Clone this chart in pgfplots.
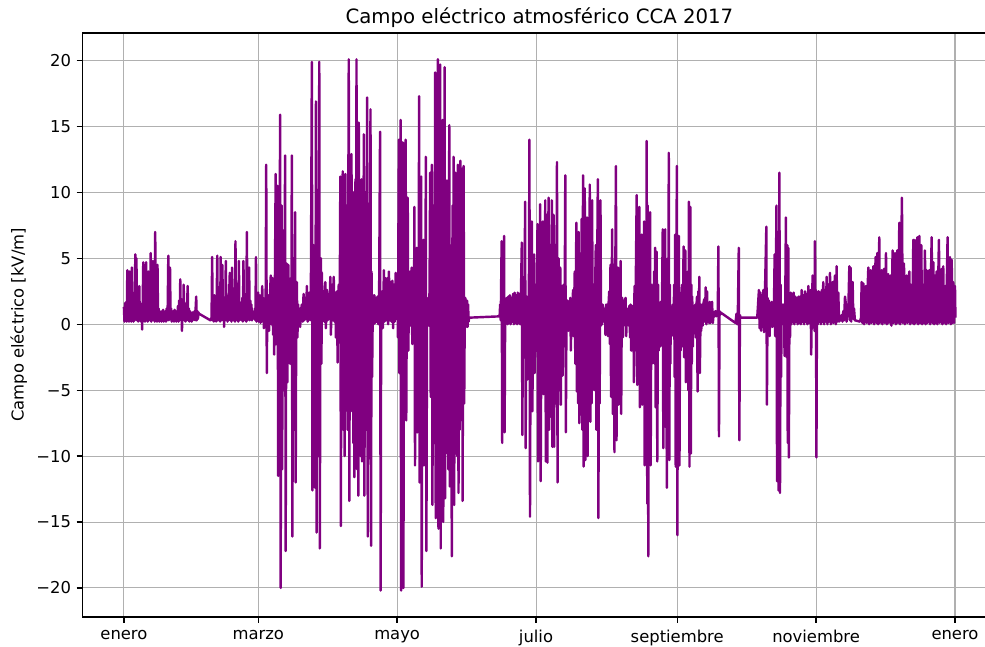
\documentclass[border=0pt]{standalone}
\usepackage{pgfplots}
\pgfplotsset{compat=1.18}
\usepackage{fontspec}
\setmainfont{DejaVu Sans}
\definecolor{mplpurple}{HTML}{800080}
\definecolor{gridgray}{HTML}{B0B0B0}
\begin{document}
\begin{tikzpicture}
\useasboundingbox (-59.3pt,-21.6pt) rectangle (649.9pt,444.2pt);
\clip (-59.3pt,-21.6pt) rectangle (649.9pt,444.2pt);
\begin{axis}[
  scale only axis,
  width=658.2pt, height=420.5pt,
  xmin=-36.5, xmax=766.5, ymin=-22.2, ymax=22.1,
  axis line style={line width=0.95pt},
  xtick={0,118,240,362,486,608,730},
  xticklabels={enero,marzo,mayo,julio,septiembre,noviembre,enero},
  ytick={-20,-15,-10,-5,0,5,10,15,20},
  yticklabels={−20,−15,−10,−5,0,5,10,15,20},
  tick align=outside, tick pos=left, major tick length=4.1pt,
  tick style={line width=0.95pt, black},
  grid=major, grid style={line width=0.75pt, color=gridgray},
  ticklabel style={font=\fontsize{11.8}{14}\selectfont},
  xticklabel style={yshift=-2pt},
  yticklabel style={xshift=-0.5pt},
  title={Campo eléctrico atmosférico CCA 2017},
  title style={font=\fontsize{14.2}{17}\selectfont, yshift=-5.5pt},
  ylabel={Campo eléctrico [kV/m]},
  ylabel style={font=\fontsize{11.8}{14}\selectfont},
]
\addplot[mplpurple, line width=1.75pt, line join=round, mark=none] coordinates {
(0,1.3)(0.5,0.2)(1,1.6)(1.5,0.3)(2,1.7)(2.5,0.2)(3,4.1)(3.5,0.3)(4,1.5)(4.5,0.2)(5,4.0)(5.5,0.4)(6,1.6)(6.5,0.2)(7,4.3)(7.5,0.3)(8,1.8)(8.5,0.2)(9,2.4)(9.5,0.3)(10,5.3)(10.5,0.5)(11,5.0)(11.5,0.3)(12,1.7)(12.5,0.2)(13,1.5)(13.5,2.9)(14,0.3)(14.5,1.6)(15,0.2)(15.5,1.4)(16,-0.4)(16.5,1.5)(17,4.7)(17.5,0.3)(18,1.8)(18.5,0.2)(19,1.6)(19.5,4.7)(20,0.3)(20.5,1.7)(21,0.2)(21.5,4.0)(22,0.4)(22.5,1.8)(23,0.3)(23.5,5.4)(24,0.2)(24.5,1.9)(25,0.3)(25.5,4.8)(26,0.4)(26.5,1.7)(27,0.2)(27.5,7.0)(28,0.3)(28.5,1.8)(29,0.2)(29.5,4.5)(30,0.3)(30.5,1.2)(31,0.2)(31.5,1.0)(32,0.3)(32.5,0.9)(33,0.2)(33.5,1.0)(34,0.3)(34.5,1.1)(35,0.2)(35.5,0.9)(36,0.3)(36.5,1.0)(37,0.2)(37.5,1.2)(38,0.3)(38.5,1.5)(39,5.2)(39.5,0.3)(40,1.5)(40.5,4.3)(41,0.4)(41.5,1.2)(42,0.2)(42.5,1.0)(43,0.3)(43.5,1.0)(44,0.2)(44.5,1.1)(45,0.3)(45.5,0.9)(46,0.2)(46.5,1.0)(47,0.3)(47.5,1.4)(48,0.2)(48.5,1.8)(49,0.3)(49.5,3.4)(50,0.4)(50.5,1.5)(51,-0.5)(51.5,1.4)(52,0.3)(52.5,3.0)(53,0.4)(53.5,1.6)(54,0.2)(54.5,1.5)(55,0.3)(55.5,1.4)(56,2.9)(56.5,0.3)(57,1.2)(57.5,0.2)(58,1.0)(58.5,0.3)(59,0.8)(59.5,0.2)(60,0.9)(60.5,0.3)(61,0.8)(61.5,0.4)(62,1.0)(62.5,0.3)(63,1.2)(63.5,2.1)(64,0.3)(64.5,1.0)(65,0.4)(65.5,0.9)(66,0.8)(76,0.3)
(77,0.5)(77.5,5.1)(78,0.3)(78.5,1.8)(79,0.2)(79.5,2.2)(80,0.4)(80.5,1.9)(81,0.2)(81.5,2.0)(82,5.2)(82.5,0.3)(83,2.1)(83.5,0.4)(84,1.8)(84.5,0.2)(85,5.1)(85.5,0.3)(86,2.0)(86.5,4.5)(87,0.3)(87.5,1.8)(88,-0.2)(88.5,2.0)(89,0.3)(89.5,4.8)(90,0.4)(90.5,2.2)(91,0.2)(91.5,1.9)(92,0.3)(92.5,2.4)(93,3.9)(93.5,0.3)(94,2.0)(94.5,0.2)(95,4.3)(95.5,0.4)(96,2.1)(96.5,0.3)(97,2.5)(97.5,0.2)(98,6.3)(98.5,0.4)(99,2.2)(99.5,0.3)(100,2.0)(100.5,0.2)(101,4.8)(101.5,0.3)(102,1.2)(102.5,0.4)(103,1.0)(103.5,0.3)(104,2.0)(104.5,0.2)(105,4.8)(105.5,0.3)(106,2.1)(106.5,0.4)(107,2.3)(107.5,0.2)(108,7.0)(108.5,0.3)(109,2.0)(109.5,0.4)(110,4.3)(110.5,0.3)(111,1.8)(111.5,0.4)(112,1.5)(112.5,0.3)(113,1.0)(113.5,0.5)(114,0.9)(114.5,0.4)(115,1.2)(115.5,0.3)(116,5.1)(116.5,0.2)(117,1.6)(117.5,0.3)(118,2.4)(118.5,0.2)(119,1.8)(119.5,2.2)(120,0.1)(120.5,1.9)(121,0.2)(121.5,2.9)(122,0.3)(122.5,2.0)(123,-0.3)(123.5,1.8)(124,0.2)(124.5,1.5)
(125,12.1)(125.5,-3.7)(126,1.8)(126.5,0.3)(127,2.2)(127.5,-0.5)(128,1.6)(129,3.7)(129.5,0.0)(130.5,3.5)(131,-0.8)(131.5,2.0)(132,-2.3)(132.5,1.5)(133.3,11.4)(133.8,-1.5)(134.3,3.0)(135,10.5)(135.5,-11.5)(136,2.0)(136.5,-3.0)(137.2,15.9)(137.7,-20.0)(138.2,4.0)(138.6,9.0)(139,-11.0)(139.5,2.5)(140,7.1)(140.5,-5.0)(141,3.0)(141.6,12.8)(142.1,-17.2)(142.6,3.0)(143.1,4.6)(143.6,-4.4)(144.1,2.0)(144.5,4.5)(145,-2.0)(145.5,2.8)(146,-3.0)(146.5,3.5)(147,-1.5)(147.5,12.8)(148,-16.1)(148.5,2.0)(148.9,5.0)(149.4,-8.0)(149.9,3.0)(150.4,8.5)(150.9,-12.0)(151.4,2.0)(151.9,3.2)(152.4,-1.0)(153,1.5)(153.5,0.0)(154,1.2)(154.8,-0.2)(155.5,1.0)(156.3,1.5)(157,0.2)(157.8,2.3)(158.5,0.3)(159.3,2.0)(160,0.4)(160.7,2.9)(161.4,0.2)(162,2.2)(162.8,2.4)(163.5,0.3)(164.2,1.8)
(165.1,19.9)(165.6,-12.6)(166.1,2.0)(166.6,6.0)(167,-8.0)(167.5,3.0)(168,-12.4)(168.7,16.9)(169.2,-15.8)(169.7,2.0)(170.1,9.0)(170.6,-10.0)(171.1,2.0)(171.6,19.9)(172.1,-17.0)(172.6,2.0)(173.1,5.0)(173.5,-3.0)(173.9,3.9)(174.5,0.3)(175.4,2.5)(176,0.2)(176.9,3.2)(177.4,-0.3)(178.4,2.6)(179,0.3)(179.8,2.2)(180.5,0.4)(181.3,3.6)(181.8,-0.8)(182.8,3.0)(183.5,0.3)(184.3,3.6)(185,0.2)(185.7,2.4)(186.2,-1.0)(187.2,2.5)(187.7,-2.9)(188.2,1.5)(188.7,3.0)(189.2,-1.0)(189.6,2.0)(190.1,11.2)(190.6,-15.3)(191,5.0)(191.5,-6.0)(192.2,11.6)(192.7,-8.0)(193.4,6.0)(193.9,-10.0)(194.6,11.4)(195.1,-5.3)(196,8.0)(196.5,-8.0)(197.5,20.1)(198,-13.4)(198.7,10.0)(199.2,-5.0)(199.9,12.9)(200.4,-6.6)(201,9.0)(201.5,-9.0)(201.9,10.0)(202.4,-11.6)(203.4,11.0)(203.9,-7.0)(204.3,20.1)(204.8,-11.0)(205.4,10.0)(205.9,-13.0)(206.3,15.3)(206.8,-8.0)(207.5,9.0)(208,-10.0)(208.7,11.0)(209.2,-10.4)(209.9,8.0)(210.3,-6.0)(210.7,14.4)(211.2,-13.0)(212.2,10.0)(212.7,-8.0)(213.7,17.2)(214.2,-16.1)(215.2,9.0)(215.7,-9.0)(216.6,16.3)(217.1,-16.8)(217.5,4.0)(218,-4.0)(218.7,2.2)(219.3,0.0)(220,2.2)(220.7,0.1)(221.4,2.0)(222.1,0.2)(222.8,2.1)(223.5,0.0)(224.2,2.5)(225,14.6)(225.5,-20.2)(226,2.0)(226.9,2.5)(227.4,-0.3)(228.4,4.1)(229,0.2)(229.9,3.5)(230.5,0.3)(231.4,3.5)(232,0.0)(232.8,4.0)(233.4,0.3)(234.3,3.2)(235,0.2)(235.8,3.3)(236.5,-0.3)(237.2,3.0)(237.9,0.2)(238.7,3.9)(239.4,0.4)(240.2,3.5)(240.7,-1.0)
(241.5,14.0)(242,-3.7)(242.5,2.0)(243,15.5)(243.5,-20.2)(244,3.0)(244.5,-2.0)(245,13.8)(245.5,-20.0)(246,2.0)(246.5,3.7)(247,-2.9)(247.5,14.0)(248,-7.3)(248.5,2.0)(249.3,9.6)(249.8,-2.0)(250.5,2.5)(251.3,4.0)(251.8,-0.1)(252.8,4.3)(253.3,-1.5)(254.2,3.0)(254.7,-1.0)(255.2,8.9)(255.7,-10.7)(256.2,2.5)(257.2,5.8)(257.7,-8.2)(258.3,3.0)(258.8,-2.0)(259.3,17.3)(259.8,-12.0)(260.5,3.0)(261.1,11.2)(261.6,-19.9)(262.1,2.0)(263.1,6.4)(263.6,-10.7)(264.2,2.5)(264.7,-3.0)(265.2,12.7)(265.7,-17.2)(266.3,2.0)(266.9,0.2)(267.5,1.5)(268,-0.1)(268.5,3.0)(269,11.5)(269.5,-5.5)(270,3.0)(270.5,12.1)(271,-13.7)(271.5,3.0)(272,9.0)(272.5,-9.0)(273,2.0)(273.4,19.1)(273.9,-14.7)(274.3,3.0)(274.6,12.0)(275,-12.0)(275.4,2.0)(275.8,20.1)(276.3,-15.5)(276.7,11.0)(277.1,-10.0)(277.4,3.0)(277.8,19.7)(278.3,-17.0)(278.7,12.0)(279.1,-12.0)(279.5,2.0)(280,15.5)(280.5,-15.0)(281,3.0)(281.3,-3.0)(281.7,19.5)(282.2,-13.2)(282.8,10.0)(283.2,-8.0)(283.7,10.9)(284.2,-9.8)(284.6,8.0)(285,-11.0)(285.4,2.0)(285.8,15.1)(286.3,-12.3)(286.7,6.0)(287.1,-7.0)(287.5,5.3)(288,-17.6)(288.4,2.0)(288.7,9.0)(289.1,-9.0)(289.6,12.7)(290.1,-13.7)(290.6,3.0)(291.1,11.5)(291.6,-9.8)(292.3,8.0)(292.8,-10.0)(293.4,12.1)(293.9,-12.8)(294.6,6.0)(295,-8.0)(295.5,12.4)(296,-7.1)(296.5,3.0)(297,11.8)(297.5,-13.4)(298,2.0)(298.4,12.0)(298.9,-6.0)(299.4,1.0)(299.9,2.0)(300.5,-0.2)(301,1.2)(301.4,1.8)(301.9,-0.2)(302.3,1.5)(302.8,0.2)(303.2,0.5)(330,0.6)
(330.5,1.5)(331,0.3)(331.8,6.3)(332.3,-9.0)(332.8,1.0)(333.4,0.2)(333.9,6.7)(334.4,-8.2)(334.9,1.0)(335.5,0.3)(336.2,2.0)(337,0.0)(337.7,2.1)(338.4,0.1)(339,2.2)(339.7,0.0)(340.4,2.0)(341.1,0.2)(341.8,2.3)(342.5,0.0)(343.2,2.4)(343.9,0.1)(344.6,2.2)(345.3,0.0)(346,2.4)(346.7,0.1)(347.4,2.3)(348,0.0)(348.8,2.5)(349.5,6.2)(350,-8.4)(350.5,1.5)(350.9,3.0)(351.4,-2.0)(351.9,1.0)(352.4,9.3)(352.9,-9.4)(353.4,1.5)(353.9,2.1)(354.4,-4.2)(355,2.0)(355.6,-1.0)(356.2,14.0)(356.7,-14.6)(357.3,2.0)(357.8,-1.0)(358.3,7.8)(358.8,-6.6)(359.5,2.5)(360.3,5.3)(360.8,-3.7)(361.3,2.0)(361.8,3.0)(362.3,-2.0)(362.8,2.0)(363.3,7.6)(363.8,-10.4)(364.5,3.0)(365.1,-1.0)(365.6,9.1)(366.1,-11.9)(366.8,3.0)(367.4,-2.0)(368,7.8)(368.5,-5.3)(369.1,3.0)(369.6,-2.0)(370.1,9.4)(370.6,-10.4)(371,3.0)(371.5,8.3)(372,-10.5)(372.5,3.0)(373,9.6)(373.5,-8.0)(374,2.0)(374.5,6.0)(375,-7.0)(375.4,2.0)(375.9,9.4)(376.4,-9.3)(376.9,2.0)(377.4,8.3)(377.9,-9.3)(378.4,2.0)(378.9,6.0)(379.4,-6.0)(379.9,2.0)(380.4,12.3)(380.9,-12.0)(381.4,2.0)(381.8,5.0)(382.3,-5.0)(382.8,2.0)(383.3,4.3)(383.8,-6.1)(384.3,2.0)(384.8,2.9)(385.3,-3.9)(385.8,1.5)(386.2,3.0)(386.7,-1.5)(387.2,2.0)(387.7,11.3)(388.2,-8.2)(388.8,1.8)(389.3,0.2)(389.8,1.8)(390.4,-0.5)(391,1.5)(391.6,0.2)(392.1,2.0)(392.6,-2.0)(393.2,1.5)(393.8,0.2)(394.5,2.6)(395,-0.9)(395.5,1.5)(396,4.0)(396.5,-3.0)(397,2.0)(397.4,7.7)(397.9,-5.1)(398.3,2.0)(398.6,6.0)(399,-6.0)(399.5,7.0)(400,-7.5)(400.5,2.0)(401,5.3)(401.5,-5.0)(402.1,8.0)(402.6,-8.0)(403,2.0)(403.3,11.3)(403.8,-10.8)(404.3,2.0)(404.8,10.3)(405.3,-10.3)(405.7,2.0)(406,8.0)(406.4,-8.0)(406.8,8.1)(407.3,-10.0)(407.6,2.0)(408,7.0)(408.5,-7.0)(408.8,2.0)(409.2,10.6)(409.7,-7.4)(410,2.0)(410.4,7.0)(410.8,-6.0)(411.3,9.4)(411.8,-4.6)(412.2,1.5)(412.7,2.6)(413.2,-5.0)(413.7,1.5)(414.5,6.0)(415,-8.0)(415.5,2.0)(416.3,11.0)(416.8,-14.7)(417.4,6.0)(417.9,-6.0)(418.6,9.4)(419.1,-0.1)(419.6,1.5)(420.1,0.0)(420.6,1.5)(421,0.2)(421.5,1.0)(422,0.2)(422.5,1.2)(423,-0.8)(423.5,1.5)(424,0.0)(424.6,1.5)(425.1,-0.9)(425.7,1.5)(426.3,2.5)(426.8,-1.5)(427.4,4.5)(427.9,-5.5)(428.4,2.0)(428.9,7.2)(429.4,-6.8)(429.9,2.0)(430.4,4.5)(430.9,-9.7)(431.5,2.0)(432.2,12.0)(432.7,-8.8)(433.2,2.0)(433.9,4.3)(434.4,-6.1)(435.1,3.0)(435.6,-3.0)(436.3,4.8)(436.8,-6.8)(437.3,1.5)(437.7,2.0)(438.2,-1.0)(438.6,1.5)(439.2,-0.1)(439.9,1.8)(440.7,2.0)(441.2,-0.9)(441.9,1.2)(442.8,1.0)(443.3,-0.1)(444,1.4)(444.6,-1.0)(445.1,1.5)(445.6,-2.0)(446.2,1.4)(446.8,-1.5)(447.5,1.4)(448,-4.4)(448.5,2.9)(449,-2.0)(449.5,2.0)
(450.4,9.8)(450.9,-4.6)(451.5,2.0)(452,-3.0)(452.7,8.9)(453.2,-6.3)(453.8,2.0)(454.3,-2.0)(454.8,6.8)(455.3,-6.1)(455.9,2.0)(456.4,-2.0)(456.9,7.8)(457.4,-10.7)(458,5.0)(458.5,-9.0)(459.2,13.9)(459.7,-13.6)(460.1,9.0)(460.6,-17.6)(461,6.0)(461.5,-8.0)(462.2,8.5)(462.7,-10.7)(463.3,3.0)(463.8,-3.0)(464.5,2.4)(465,-1.7)(465.7,4.0)(466.2,-3.0)(466.6,5.8)(467.1,-6.3)(467.6,2.0)(468,5.5)(468.5,-10.4)(469.2,3.0)(469.7,-2.0)(470.4,1.5)(470.9,-1.7)(471.6,1.7)(472.1,-1.6)(472.7,2.0)(473.3,7.2)(473.8,-9.4)(474.5,5.0)(475,-7.0)(475.4,7.2)(475.9,-7.8)(476.4,1.0)(476.9,-12.4)(477.4,1.0)(477.8,5.0)(478.2,-5.0)(478.6,13.0)(479.1,-10.3)(479.5,3.0)(480,-3.0)(480.4,1.0)(481,0.0)(481.6,1.2)(482.2,1.5)(482.7,-0.9)(483.3,3.0)(483.8,-4.0)(484.2,6.8)(484.7,-10.8)(485.2,2.0)(485.7,12.0)(486.2,-16.0)(486.6,5.0)(487,-6.0)(487.5,6.7)(488,-10.7)(488.6,2.0)(489,-2.0)(489.5,2.4)(490,-1.7)(490.4,3.0)(490.9,-1.0)(491.6,5.9)(492.1,-2.5)(492.6,2.0)(493.1,5.6)(493.6,-4.4)(494,1.0)(494.5,1.3)(495,-0.4)(495.4,4.0)(495.8,-5.0)(496.3,9.3)(496.8,-10.8)(497.2,2.0)(497.5,8.9)(498,-9.8)(498.4,3.0)(498.8,-3.0)(499.2,2.1)(499.7,-1.7)(500.4,1.4)(501,-0.1)(501.9,1.5)(502.4,-1.0)(503,1.5)(503.4,2.1)(503.9,-5.1)(504.5,2.5)(505,-2.0)(505.4,3.6)(505.9,-3.7)(506.6,1.5)(507.1,-0.5)(507.8,1.5)(508.4,-0.1)(509.1,1.6)(509.8,1.9)(510.4,0.2)(511,2.8)(511.6,0.0)(512.2,2.5)(512.8,0.2)(513.4,1.3)(514,0.1)(514.5,1.7)(515.1,0.1)(515.8,1.5)(516.6,1.7)(517.3,0.1)(518.1,0.9)(518.8,0.6)(519.5,1.0)(520.2,0.6)(520.9,1.0)(521.6,0.7)(522.2,5.9)(522.7,-8.5)(523.2,1.0)(523.6,0.7)(524,0.9)(537.2,0.1)(538.1,0.8)(538.6,0.0)(539.3,1.0)(540.1,5.8)(540.6,-8.8)(541.1,0.7)(541.6,0.5)(556.3,0.5)
(557.8,2.6)(558.4,-0.3)(559.1,2.4)(559.7,-0.5)(560.4,2.2)(561,-0.2)(561.7,2.6)(562.3,-0.6)(563,2.0)(564.3,7.4)(564.8,-6.1)(565.4,2.0)(566,-0.5)(566.6,1.8)(567.2,-0.9)(567.8,1.6)(568.4,0.0)(569,1.7)(569.6,-0.2)(570.2,1.6)(570.8,0.0)(571.6,5.3)(572.1,-0.9)(572.5,1.5)(573.2,9.0)(573.7,-11.9)(574.2,2.0)(574.6,7.0)(575,-12.6)(575.5,2.0)(575.8,11.5)(576.3,-12.8)(576.9,3.0)(577.3,-4.0)(577.7,1.5)(578.3,0.0)(578.9,1.5)(579.4,0.2)(579.8,1.5)(580.3,-2.4)(580.9,1.5)(581.5,8.1)(582,-2.5)(582.4,1.5)(582.7,6.0)(583.1,-9.0)(583.6,5.8)(584.1,-10.1)(584.6,2.0)(585.1,-1.0)(585.7,2.4)(586.3,0.0)(587,2.3)(587.6,0.2)(588.3,2.4)(589,0.0)(589.7,2.1)(590.4,0.2)(591.1,2.0)(591.8,0.0)(592.5,2.1)(593.2,0.1)(593.9,2.1)(594.6,0.0)(595.3,2.6)(596,0.2)(596.7,2.2)(597.4,0.0)(598.2,2.5)(598.9,0.2)(599.6,2.3)(600.3,0.0)(601.2,2.9)(601.9,0.1)(602.6,2.2)(603.2,2.6)(603.7,-2.3)(604.3,1.5)(605,3.7)(605.6,0.0)(606.1,2.5)(606.6,-0.5)(607,6.3)(607.4,-0.1)(607.9,2.6)(608.3,-10.1)(608.8,2.0)(609.5,0.0)(610.2,2.5)(610.9,0.2)(611.6,2.4)(612.3,0.0)(613,2.6)(613.7,0.2)(614.3,3.2)(615,0.0)(615.7,2.6)(616.4,0.2)(617.3,3.6)(618,0.0)(618.7,3.0)(619.4,0.2)(620.2,3.9)(620.9,0.0)(621.6,2.8)(622.5,3.2)(623.2,0.1)(624,2.8)(624.6,3.7)(625.3,0.0)(626,4.4)(626.7,0.2)(627.5,2.4)(628.2,0.2)(629,0.5)(629.7,0.3)(630.4,0.7)(631.2,0.2)(631.9,1.0)(632.6,0.3)(633.4,2.1)(634.2,1.5)(634.8,0.2)(635.5,0.8)(636.3,1.0)(637.2,4.4)(637.7,0.3)(638.3,4.3)(638.8,0.2)(639.2,2.0)(639.6,0.5)(640.1,3.2)(640.7,0.4)(641.3,1.2)(642.1,0.3)(646.5,0.2)
(647.5,0.5)(648,3.2)(648.7,0.1)(649.5,3.1)(650.2,0.0)(651,2.5)(651.8,2.9)(652.5,0.1)(653.2,2.6)(653.9,4.3)(654.6,0.0)(655.3,2.8)(655.9,4.1)(656.6,0.1)(657.4,3.0)(658.3,4.4)(659,0.0)(659.6,3.0)(660.3,5.1)(661,0.1)(661.8,5.4)(662.5,0.0)(663,3.0)(663.5,6.6)(664.1,0.1)(664.9,3.2)(665.6,4.1)(666.3,0.0)(667,3.0)(667.6,4.2)(668.3,0.1)(668.9,3.0)(669.4,5.4)(670.1,0.0)(670.8,3.2)(671.4,3.8)(672.1,0.1)(672.8,3.0)(673.5,3.7)(674.2,-0.1)(675.2,5.6)(675.9,0.1)(676.6,3.0)(677.3,5.4)(678,0.0)(678.6,3.1)(679.3,5.6)(680,0.1)(680.5,3.5)(681.1,7.7)(681.8,0.0)(682.5,3.2)(683.4,9.6)(684.1,0.1)(684.7,3.0)(685.2,4.6)(685.9,0.0)(686.7,3.2)(687.5,3.7)(688.2,0.1)(688.9,3.0)(689.9,4.0)(690.6,0.0)(691.3,3.0)(691.9,2.6)(692.6,0.1)(693.4,6.4)(694.1,0.0)(694.8,6.4)(695.5,0.1)(696.2,3.0)(696.9,6.6)(697.6,0.0)(698.2,3.2)(698.7,6.7)(699.4,0.1)(700,3.0)(700.4,6.0)(701.1,0.0)(701.7,3.0)(702.2,2.5)(702.9,0.1)(703.6,5.6)(704.3,0.0)(705.1,4.1)(705.8,0.1)(706.6,3.0)(707.4,4.1)(708.1,0.0)(708.8,3.0)(709.5,6.6)(710.2,0.1)(711,4.7)(711.7,0.0)(712.4,3.7)(713.1,0.1)(713.9,4.0)(714.6,0.0)(715.2,3.0)(715.9,6.4)(716.6,0.1)(717.5,3.0)(718.3,4.2)(719,0.0)(719.7,4.4)(720.4,0.1)(721.5,2.9)(722.2,0.0)(722.8,3.0)(723.5,6.6)(724.2,0.1)(724.9,3.0)(725.6,5.1)(726.3,0.0)(727.1,4.9)(727.8,0.1)(728.5,3.2)(729.2,0.1)(730,2.9)(730.4,0.5)
};
\end{axis}
\end{tikzpicture}
\end{document}
